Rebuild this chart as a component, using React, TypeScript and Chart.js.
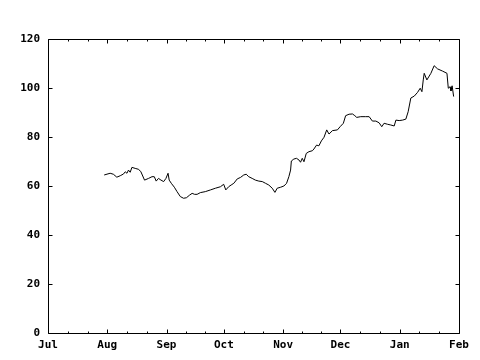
import React, { useEffect, useRef } from "react";
import { Chart, registerables } from "chart.js";

Chart.register(...registerables);

// Days since Jul 1 and the corresponding values
const days = [
  29.4, 32.5, 34.2, 36.0, 37.8, 39.5, 40.4, 41.3, 42.1, 43.0, 43.9, 45.6, 47.4, 48.6,
  50.5, 52.6, 54.4, 55.6, 56.6, 57.8, 59.1, 60.5, 61.7, 62.8, 63.4, 64.5, 66.1, 67.5,
  69.2, 70.9, 72.4, 74.1, 75.4, 76.7, 78.0, 79.7, 82.3, 85.0, 87.6, 90.2, 91.9, 93.0,
  94.5, 95.8, 97.2, 99.0, 100.7, 102.4, 103.7, 105.0, 106.8, 108.5, 110.3, 112.1, 113.8,
  115.5, 117.3, 118.7, 119.9, 121.7, 123.4, 124.8, 126.0, 126.9, 127.3, 128.6, 130.0,
  131.3, 132.1, 133.0, 133.9, 135.1, 136.5, 138.3, 139.1, 140.5, 141.7, 143.0, 144.4,
  145.8, 147.0, 148.8, 151.4, 152.8, 154.5, 155.7, 157.5, 159.3, 160.5, 161.5, 163.6,
  166.2, 168.0, 169.7, 171.5, 173.2, 174.6, 175.8, 177.6, 179.3, 181.1, 182.0, 183.7,
  185.5, 187.2, 188.4, 189.8, 191.6, 193.3, 194.7, 195.6, 196.3, 196.8, 198.2, 200.3,
  202.0, 203.8, 206.4, 208.7, 209.4, 210.3, 210.8, 211.4, 212.2,
];
const values = [
  64.5, 65.2, 64.8, 63.6, 64.2, 64.9, 65.8, 65.2, 66.5, 65.6, 67.6, 67.2, 66.8, 65.8,
  62.4, 63.1, 63.8, 63.8, 62.0, 63.1, 62.4, 61.8, 63.1, 65.2, 62.4, 61.1, 59.5, 57.7,
  55.7, 55.0, 55.2, 56.3, 57.0, 56.6, 56.6, 57.3, 57.7, 58.4, 59.1, 59.7, 60.7, 58.4,
  59.7, 60.4, 61.1, 62.9, 63.5, 64.5, 64.8, 63.8, 63.1, 62.4, 62.0, 61.8, 61.1,
  60.4, 59.1, 57.4, 59.1, 59.5, 60.0, 61.1, 63.8, 66.5, 70.2, 71.0, 71.3,
  70.6, 69.7, 71.3, 69.9, 73.3, 74.0, 74.4, 75.1, 76.7, 76.4, 78.4, 79.9,
  82.9, 81.2, 82.6, 82.9, 84.2, 85.6, 88.7, 89.3, 89.4, 88.7, 88.0, 88.3,
  88.3, 88.3, 86.5, 86.5, 85.8, 84.2, 85.6, 85.2, 84.9, 84.5, 86.9, 86.7,
  86.9, 87.3, 90.3, 95.9, 96.7, 98.2, 99.9, 98.5, 103.3, 106.0, 103.3, 106.0,
  109.1, 107.8, 106.9, 106.0, 99.9, 100.5, 98.8, 100.9, 96.5,
];
const monthLabels = ["Jul", "Aug", "Sep", "Oct", "Nov", "Dec", "Jan", "Feb"];
const monthStarts = [0, 31, 62, 92, 123, 153, 184, 215];
const yTicks = [0, 20, 40, 60, 80, 100, 120];

const FONT = { family: "'DejaVu Sans Mono', monospace", size: 11, weight: "bold" as const };

const framePlugin = {
  id: "frame",
  afterDraw(chart: any) {
    const { ctx, chartArea } = chart;
    const xs = chart.scales.x;
    const ys = chart.scales.y;
    const L = Math.round(chartArea.left) + 0.5;
    const R = Math.round(chartArea.right) + 0.5;
    const T = Math.round(chartArea.top) + 0.5;
    const B = Math.round(chartArea.bottom) + 0.5;
    ctx.save();
    ctx.strokeStyle = "#000";
    ctx.lineWidth = 1;
    ctx.beginPath();
    ctx.rect(L, T, R - L, B - T);
    // x ticks (major + minor thirds of month)
    for (let i = 0; i < monthStarts.length; i++) {
      const px = Math.round(xs.getPixelForValue(monthStarts[i])) + 0.5;
      ctx.moveTo(px, B); ctx.lineTo(px, B - 4);
      ctx.moveTo(px, T); ctx.lineTo(px, T + 4);
      if (i < monthStarts.length - 1) {
        const span = monthStarts[i + 1] - monthStarts[i];
        for (let k = 1; k < 3; k++) {
          const mx = Math.round(xs.getPixelForValue(monthStarts[i] + (span * k) / 3)) + 0.5;
          ctx.moveTo(mx, B); ctx.lineTo(mx, B - 2);
          ctx.moveTo(mx, T); ctx.lineTo(mx, T + 2);
        }
      }
    }
    for (const v of yTicks) {
      const py = Math.round(ys.getPixelForValue(v)) + 0.5;
      ctx.moveTo(L, py); ctx.lineTo(L + 4, py);
      ctx.moveTo(R, py); ctx.lineTo(R - 4, py);
    }
    ctx.stroke();
    ctx.restore();
  },
};

export default function App() {
  const ref = useRef<HTMLCanvasElement | null>(null);
  useEffect(() => {
    document.body.style.margin = "0";
    const points = days.map((d, i) => ({ x: d, y: values[i] }));
    const chart = new Chart(ref.current as HTMLCanvasElement, {
      type: "line",
      data: {
        datasets: [
          {
            data: points,
            borderColor: "#000",
            borderWidth: 1,
            pointRadius: 0,
            tension: 0,
            fill: false,
          },
        ],
      },
      options: {
        animation: false,
        responsive: false,
        devicePixelRatio: 1,
        layout: { padding: { top: 39, right: 21, left: 0, bottom: 0 } },
        plugins: { legend: { display: false }, tooltip: { enabled: false } },
        scales: {
          x: {
            type: "linear",
            min: 0,
            max: 215,
            grid: { display: false, drawTicks: false },
            border: { display: false },
            afterBuildTicks: (scale: any) => {
              scale.ticks = monthStarts.map((v) => ({ value: v }));
            },
            afterFit: (scale: any) => {
              scale.height = 27;
            },
            ticks: {
              autoSkip: false,
              maxRotation: 0,
              padding: 6,
              color: "#000",
              font: FONT,
              callback: (v: any) => {
                const i = monthStarts.indexOf(Number(v));
                return i >= 0 ? monthLabels[i] : "";
              },
            },
          },
          y: {
            min: 0,
            max: 120,
            grid: { display: false, drawTicks: false },
            border: { display: false },
            afterBuildTicks: (scale: any) => {
              scale.ticks = yTicks.map((v) => ({ value: v }));
            },
            afterFit: (scale: any) => {
              scale.width = 48;
            },
            ticks: {
              padding: 8,
              color: "#000",
              font: FONT,
            },
          },
        },
      },
      plugins: [framePlugin],
    });
    return () => chart.destroy();
  }, []);
  return (
    <div style={{ position: "absolute", left: 0, top: 0, width: 480, height: 360, background: "#fff" }}>
      <canvas ref={ref} width={480} height={360} />
    </div>
  );
}
